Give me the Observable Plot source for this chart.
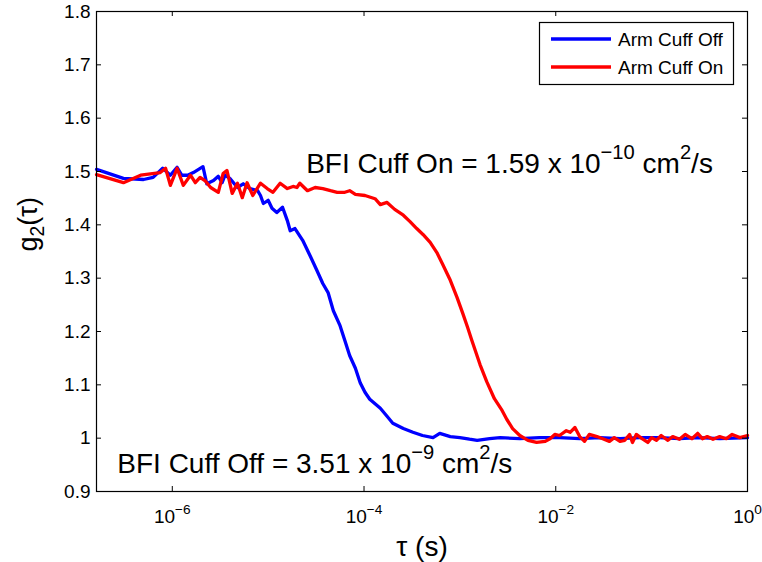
<!DOCTYPE html>
<html>
<head>
<meta charset="utf-8">
<script src="https://cdn.jsdelivr.net/npm/d3@7"></script>
<script src="https://cdn.jsdelivr.net/npm/@observablehq/plot@0.6"></script>
<style>
  html, body { margin: 0; padding: 0; background: white; }
  #chart { width: 762px; height: 562px; }
</style>
</head>
<body>
<div id="chart"></div>
<script>
// ---- Data ----
// log10 of tau (s) for each sample, and g2 values
const logTauOff = [-6.79,-6.51,-6.30,-6.20,-6.10,-6.02,-5.95,-5.90,-5.84,-5.78,-5.68,-5.64,-5.57,-5.52,-5.48,-5.45,-5.40,-5.32,-5.26,-5.19,-5.11,-5.08,-5.05,-5.00,-4.96,-4.91,-4.85,-4.80,-4.77,-4.72,-4.64,-4.56,-4.49,-4.43,-4.375,-4.32,-4.25,-4.20,-4.15,-4.09,-4.04,-3.99,-3.94,-3.83,-3.76,-3.70,-3.59,-3.49,-3.39,-3.28,-3.21,-3.10,-3.00,-2.90,-2.82,-2.69,-2.58,-2.375,-2.17,-1.96,-1.75,-1.54,-1.33,-1.125,-0.92,-0.71,-0.50,-0.29,0];
const g2Off = [1.504,1.487,1.485,1.489,1.506,1.493,1.508,1.493,1.493,1.498,1.509,1.477,1.483,1.491,1.479,1.493,1.487,1.470,1.477,1.468,1.464,1.455,1.440,1.446,1.431,1.423,1.433,1.408,1.389,1.393,1.371,1.341,1.314,1.290,1.273,1.239,1.211,1.183,1.155,1.131,1.104,1.086,1.073,1.056,1.041,1.028,1.018,1.011,1.005,1.001,1.009,1.003,1.001,0.998,0.996,0.999,1.001,0.999,1.001,1.001,0.999,1.001,0.999,1.001,1.001,0.999,1.001,0.999,1.001];

const logTauOn = [-6.79,-6.51,-6.33,-6.125,-6.07,-6.02,-5.95,-5.885,-5.81,-5.76,-5.71,-5.66,-5.60,-5.52,-5.47,-5.43,-5.375,-5.32,-5.27,-5.22,-5.16,-5.08,-5.01,-4.95,-4.875,-4.80,-4.74,-4.70,-4.67,-4.59,-4.51,-4.43,-4.35,-4.28,-4.20,-4.15,-4.09,-3.99,-3.885,-3.83,-3.76,-3.68,-3.59,-3.52,-3.45,-3.385,-3.31,-3.24,-3.18,-3.10,-3.03,-2.97,-2.92,-2.875,-2.79,-2.72,-2.64,-2.56,-2.51,-2.45,-2.375,-2.29,-2.20,-2.11,-2.06,-2.01,-1.96,-1.89,-1.85,-1.80,-1.75,-1.70,-1.65,-1.57,-1.51,-1.44,-1.39,-1.33,-1.28,-1.23,-1.20,-1.16,-1.10,-1.04,-1.00,-0.95,-0.90,-0.83,-0.78,-0.71,-0.65,-0.58,-0.52,-0.47,-0.42,-0.36,-0.29,-0.22,-0.16,-0.08,0];
const g2On = [1.494,1.479,1.493,1.498,1.506,1.474,1.506,1.474,1.493,1.479,1.489,1.483,1.470,1.461,1.496,1.502,1.459,1.478,1.451,1.479,1.455,1.478,1.468,1.461,1.478,1.468,1.472,1.470,1.478,1.464,1.470,1.468,1.464,1.461,1.461,1.464,1.457,1.455,1.449,1.438,1.442,1.429,1.418,1.406,1.393,1.382,1.367,1.348,1.326,1.296,1.264,1.234,1.208,1.183,1.138,1.106,1.074,1.052,1.035,1.018,1.005,0.996,0.992,0.994,0.999,1.007,1.005,1.014,1.011,1.020,1.003,0.994,1.007,1.003,0.999,0.994,1.001,0.994,0.996,1.007,0.992,1.007,0.999,0.992,1.001,0.996,1.005,0.996,1.003,0.998,1.007,0.999,1.009,0.999,1.003,0.998,1.003,0.999,1.007,1.001,1.005];

const seriesNames = ["Arm Cuff Off", "Arm Cuff On"];
const seriesColors = ["#0000ff", "#ff0000"];

const xTicks = [1e-6, 1e-4, 1e-2, 1];
const xTickLabels = ["10^{\u22126}", "10^{\u22124}", "10^{\u22122}", "10^{0}"];
const yTicks = [0.9, 1.0, 1.1, 1.2, 1.3, 1.4, 1.5, 1.6, 1.7, 1.8];
const yTickLabels = ["0.9", "1", "1.1", "1.2", "1.3", "1.4", "1.5", "1.6", "1.7", "1.8"];
const xDomain = [1.62e-7, 1];
const yDomain = [0.9, 1.8];

const xLabel = "\u03c4 (s)";
const yLabel = "g_{2}(\u03c4)";

const noteText = ["BFI Cuff On = 1.59 x 10^{\u221210} cm^{2}/s", "BFI Cuff Off = 3.51 x 10^{\u22129} cm^{2}/s"];
const noteTau = [2.49e-5, 2.67e-7];
const noteG2 = [1.498, 0.9356];

// ---- Build tables ----
const offData = logTauOff.map((e, i) => ({tau: 10 ** e, g2: g2Off[i]}));
const onData = logTauOn.map((e, i) => ({tau: 10 ** e, g2: g2On[i]}));
const notes = noteText.map((t, i) => ({text: t, tau: noteTau[i], g2: noteG2[i]}));
const xLab = new Map(xTicks.map((t, i) => [t, xTickLabels[i]]));
const yLab = new Map(yTicks.map((t, i) => [t, yTickLabels[i]]));

const FONT = "'Liberation Sans', Arial, Helvetica, sans-serif";
const W = 762, H = 562, ML = 96, MR = 15, MT = 11, MB = 71;
const innerW = W - ML - MR, innerH = H - MT - MB;

const plot = Plot.plot({
  width: W, height: H,
  marginLeft: ML, marginRight: MR, marginTop: MT, marginBottom: MB,
  style: {fontFamily: FONT, fontSize: "19px", background: "white", color: "black", overflow: "visible"},
  x: {type: "log", domain: xDomain},
  y: {domain: yDomain},
  marks: [
    Plot.line(offData, {x: "tau", y: "g2", stroke: seriesColors[0], strokeWidth: 3.3, strokeLinejoin: "round"}),
    Plot.line(onData, {x: "tau", y: "g2", stroke: seriesColors[1], strokeWidth: 3.3, strokeLinejoin: "round"}),
    Plot.frame({stroke: "black", strokeWidth: 1.2}),
    Plot.tickX(xTicks, {x: d => d, insetTop: innerH - 5, stroke: "black"}),
    Plot.tickX(xTicks, {x: d => d, insetBottom: innerH - 5, stroke: "black"}),
    Plot.tickY(yTicks, {y: d => d, insetRight: innerW - 5, stroke: "black"}),
    Plot.tickY(yTicks, {y: d => d, insetLeft: innerW - 5, stroke: "black"}),
    Plot.axisX(xTicks, {tickSize: 0, tickPadding: 18, tickFormat: d => xLab.get(d), label: null, fontSize: 19}),
    Plot.axisY(yTicks, {tickSize: 0, tickPadding: 6, tickFormat: d => yLab.get(d), label: null, fontSize: 19}),
    Plot.text(notes, {x: "tau", y: "g2", text: "text", textAnchor: "start", lineAnchor: "bottom", fontSize: 28, fill: "black"}),
    Plot.text([xLabel], {frameAnchor: "bottom", dy: 64, lineAnchor: "bottom", fontSize: 28, fill: "black"}),
    Plot.text([yLabel], {frameAnchor: "left", dx: -60, rotate: -90, lineAnchor: "bottom", fontSize: 27, fill: "black"})
  ]
});

document.getElementById("chart").appendChild(plot);

// ---- Superscript / subscript rendering as real text (tspans) ----
function richify(svg) {
  svg.querySelectorAll("text").forEach(t => {
    const s = t.textContent;
    if (!/[\^_]\{/.test(s)) return;
    const base = parseFloat(getComputedStyle(t).fontSize) || 19;
    const parts = s.split(/(\^\{[^}]*\}|_\{[^}]*\})/).filter(p => p.length);
    t.textContent = "";
    let shift = 0;
    for (const p of parts) {
      const ts = document.createElementNS("http://www.w3.org/2000/svg", "tspan");
      let target = 0, size = base, txt = p;
      if (p.startsWith("^{")) { target = -0.48 * base; size = 0.72 * base; txt = p.slice(2, -1); }
      else if (p.startsWith("_{")) { target = 0.26 * base; size = 0.72 * base; txt = p.slice(2, -1); }
      const dy = target - shift;
      if (dy !== 0) ts.setAttribute("dy", dy.toFixed(2));
      ts.setAttribute("font-size", size.toFixed(2));
      ts.textContent = txt;
      t.appendChild(ts);
      shift = target;
    }
  });
}
richify(plot);

// ---- Legend (boxed, top-right, as in the reference) ----
const svg = d3.select(plot);
const lg = svg.append("g").style("font-family", FONT).style("font-size", "19px").attr("text-anchor", "start");
lg.append("rect").attr("x", 539.5).attr("y", 22.5).attr("width", 194).attr("height", 62)
  .attr("fill", "white").attr("stroke", "black").attr("stroke-width", 1.2);
seriesNames.forEach((name, i) => {
  const cy = 39 + i * 28;
  lg.append("line").attr("x1", 551).attr("x2", 611).attr("y1", cy).attr("y2", cy)
    .attr("stroke", seriesColors[i]).attr("stroke-width", 3.3);
  lg.append("text").attr("x", 618).attr("y", cy + 7).attr("fill", "black")
    .attr("text-anchor", "start").style("font-size", "19px").text(name);
});
</script>
</body>
</html>
